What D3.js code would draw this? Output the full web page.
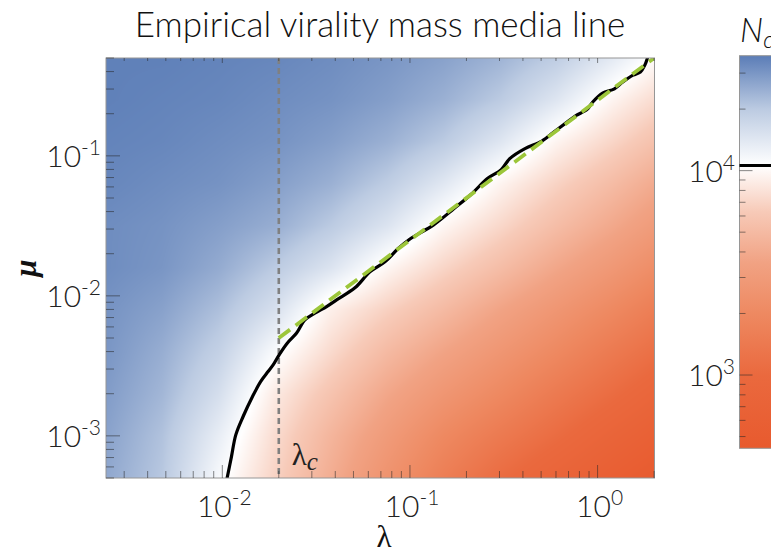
<!DOCTYPE html>
<html>
<head>
<meta charset="utf-8">
<script src="https://cdn.jsdelivr.net/npm/d3@7"></script>
<style>
  html, body { margin: 0; padding: 0; background: #ffffff; }
  svg { display: block; }
</style>
</head>
<body>
<svg id="chart" width="771" height="557"></svg>
<script>
// ---- axis ranges ----
const lambdaDomain = [0.0024, 2.01];
const muDomain = [0.0005, 0.5];
const ncDomain = [438, 36500];
const ncThreshold = 10580;

// ---- tick labels (powers of ten) ----
const lambdaMajor = [0.01, 0.1, 1];
const lambdaMajorExp = ["-2", "-1", "0"];
const muMajor = [0.001, 0.01, 0.1];
const muMajorExp = ["-3", "-2", "-1"];
const ncMajor = [1000, 10000];
const ncMajorExp = ["3", "4"];

// ---- N_c field sampled on a grid (log10 lambda columns, log10 mu rows, log10 N_c values) ----
const gridLogLambda = [-2.62, -2.32, -2.02, -1.72, -1.42, -1.12, -0.82, -0.52, -0.22, 0.08, 0.38];
const gridLogMu = [-0.3, -0.6, -0.9, -1.2, -1.5, -1.8, -2.1, -2.4, -2.7, -3.0, -3.3];
const gridLogNc = [
  [4.55, 4.55, 4.54, 4.53, 4.51, 4.48, 4.44, 4.38, 4.29, 4.14, 3.97],
  [4.55, 4.54, 4.53, 4.51, 4.49, 4.45, 4.39, 4.30, 4.16, 3.98, 3.84],
  [4.54, 4.53, 4.51, 4.49, 4.45, 4.39, 4.30, 4.16, 3.98, 3.85, 3.71],
  [4.53, 4.51, 4.49, 4.45, 4.39, 4.29, 4.15, 3.98, 3.84, 3.71, 3.57],
  [4.51, 4.49, 4.45, 4.40, 4.30, 4.17, 3.99, 3.86, 3.72, 3.59, 3.45],
  [4.51, 4.48, 4.41, 4.30, 4.17, 3.99, 3.85, 3.72, 3.58, 3.45, 3.31],
  [4.49, 4.44, 4.34, 4.19, 3.96, 3.83, 3.70, 3.56, 3.43, 3.30, 3.16],
  [4.48, 4.40, 4.27, 4.05, 3.87, 3.70, 3.56, 3.43, 3.30, 3.16, 3.03],
  [4.46, 4.37, 4.20, 3.94, 3.76, 3.58, 3.43, 3.30, 3.16, 3.03, 2.89],
  [4.44, 4.33, 4.12, 3.88, 3.67, 3.48, 3.30, 3.16, 3.03, 2.89, 2.76],
  [4.42, 4.31, 4.06, 3.84, 3.62, 3.40, 3.20, 3.03, 2.89, 2.76, 2.64]
];

// ---- colour map (log10 N_c -> colour) ----
const colorStopLog = [2.641, 3.0, 3.3, 3.55, 3.8, 4.025, 4.3, 4.563];
const colorStopHex = ["#e85a2e", "#ea693e", "#ee8961", "#f1a283", "#f7cab8", "#ffffff", "#bccbe2", "#5b7db7"];

// ---- empirical threshold line N_c = threshold ----
const thresholdLambda = [0.0106, 0.01119, 0.0118, 0.01291, 0.01449, 0.016, 0.01754, 0.01866, 0.02009, 0.02218,
  0.02489, 0.02754, 0.03112, 0.03597, 0.04065, 0.05093, 0.0612, 0.07356, 0.0863, 0.1,
  0.1337, 0.1718, 0.2114, 0.2596, 0.3064, 0.3402, 0.4101, 0.5044, 0.5945, 0.7017,
  0.7631, 0.8827, 0.9394, 1.063, 1.229, 1.362, 1.544, 1.691, 1.785, 1.849];
const thresholdMu = [0.000497, 0.000711, 0.001017, 0.001375, 0.00191, 0.00244, 0.00288, 0.00321, 0.00379, 0.00459,
  0.00542, 0.00674, 0.00752, 0.00839, 0.00936, 0.01141, 0.01483, 0.0175, 0.02168, 0.02548,
  0.03215, 0.04207, 0.05297, 0.06918, 0.07964, 0.0955, 0.1127, 0.1274, 0.1507, 0.1778,
  0.1933, 0.2158, 0.2415, 0.2806, 0.3013, 0.3365, 0.3768, 0.3972, 0.4446, 0.5059];

// ---- critical lambda and linear fit mu = lambda / 4 ----
const lambdaC = 0.02;
const fitLambda = [0.02, 2.0];
const fitMu = [0.005, 0.5];

// ================= drawing =================
const svg = d3.select("#chart");
const plot = { left: 106, top: 58, right: 654.5, bottom: 478 };
const bar = { left: 739.5, width: 40, top: 55.7, bottom: 448.3 };

const x = d3.scaleLog().domain(lambdaDomain).range([plot.left, plot.right]);
const y = d3.scaleLog().domain(muDomain).range([plot.bottom, plot.top]);
const cy = d3.scaleLog().domain(ncDomain).range([bar.bottom, bar.top]);
const color = d3.scaleLinear().domain(colorStopLog).range(colorStopHex)
  .interpolate(d3.interpolateRgb).clamp(true);

const sansFont = "'Lato Light', Lato, 'Open Sans', sans-serif";
const serifFont = "'Liberation Serif', 'DejaVu Serif', serif";

// --- heat map rendered to an image ---
const W = Math.round(plot.right - plot.left), H = Math.round(plot.bottom - plot.top);
const canvas = document.createElement("canvas");
canvas.width = W; canvas.height = H;
const ctx = canvas.getContext("2d");
const img = ctx.createImageData(W, H);
const colIdx = d3.scaleLinear().domain(gridLogLambda).range(d3.range(gridLogLambda.length)).clamp(true);
const rowIdx = d3.scaleLinear().domain(gridLogMu).range(d3.range(gridLogMu.length)).clamp(true);
const nC = gridLogLambda.length, nR = gridLogMu.length;
const colCache = new Map();
for (let j = 0; j < H; j++) {
  const lm = Math.log10(y.invert(plot.top + (j + 0.5) * (plot.bottom - plot.top) / H));
  const r = rowIdx(lm);
  const r0 = Math.min(Math.floor(r), nR - 2), fr = r - r0;
  for (let i = 0; i < W; i++) {
    const ll = Math.log10(x.invert(plot.left + (i + 0.5) * (plot.right - plot.left) / W));
    const c = colIdx(ll);
    const c0 = Math.min(Math.floor(c), nC - 2), fc = c - c0;
    const v = (1 - fr) * ((1 - fc) * gridLogNc[r0][c0] + fc * gridLogNc[r0][c0 + 1]) +
              fr * ((1 - fc) * gridLogNc[r0 + 1][c0] + fc * gridLogNc[r0 + 1][c0 + 1]);
    const key = Math.round(v * 2000);
    let rgb = colCache.get(key);
    if (!rgb) { rgb = d3.rgb(color(key / 2000)); colCache.set(key, rgb); }
    const k = (j * W + i) * 4;
    img.data[k] = rgb.r; img.data[k + 1] = rgb.g; img.data[k + 2] = rgb.b; img.data[k + 3] = 255;
  }
}
ctx.putImageData(img, 0, 0);

svg.append("defs").append("clipPath").attr("id", "plotClip")
  .append("rect").attr("x", plot.left).attr("y", plot.top)
  .attr("width", plot.right - plot.left).attr("height", plot.bottom - plot.top);

svg.append("image")
  .attr("x", plot.left).attr("y", plot.top)
  .attr("width", plot.right - plot.left).attr("height", plot.bottom - plot.top)
  .attr("preserveAspectRatio", "none")
  .attr("href", canvas.toDataURL());

const layer = svg.append("g").attr("clip-path", "url(#plotClip)");

// critical lambda (vertical dashed)
layer.append("line")
  .attr("x1", x(lambdaC)).attr("x2", x(lambdaC))
  .attr("y1", plot.top).attr("y2", plot.bottom)
  .attr("stroke", "#808080").attr("stroke-width", 2.6).attr("stroke-dasharray", "6,4");

// empirical threshold line
const thresholdPts = thresholdLambda.map((l, i) => [l, thresholdMu[i]]);
layer.append("path")
  .datum(thresholdPts)
  .attr("d", d3.line().x(d => x(d[0])).y(d => y(d[1])).curve(d3.curveCatmullRom.alpha(0.5)))
  .attr("fill", "none").attr("stroke", "#000").attr("stroke-width", 3.2)
  .attr("stroke-linejoin", "round");

// linear fit (green dashed)
const fitPts = fitLambda.map((l, i) => [l, fitMu[i]]);
layer.append("path")
  .datum(fitPts)
  .attr("d", d3.line().x(d => x(d[0])).y(d => y(d[1])))
  .attr("fill", "none").attr("stroke", "#9cc63a").attr("stroke-width", 3.8)
  .attr("stroke-dasharray", "14,7");

// frame
svg.append("rect")
  .attr("x", plot.left).attr("y", plot.top)
  .attr("width", plot.right - plot.left).attr("height", plot.bottom - plot.top)
  .attr("fill", "none").attr("stroke", "#969696").attr("stroke-width", 1);

// ticks
const tickColor = "rgba(40,40,40,0.55)";
const isMajor = v => Math.abs(Math.log10(v) - Math.round(Math.log10(v))) < 1e-9;
const ticksG = svg.append("g").attr("stroke", tickColor).attr("stroke-width", 1);
x.ticks().forEach(v => {
  const px = x(v), major = isMajor(v);
  ticksG.append("line").attr("x1", px).attr("x2", px)
    .attr("y1", plot.bottom).attr("y2", plot.bottom - (major ? 13 : 7));
  ticksG.append("line").attr("x1", px).attr("x2", px)
    .attr("y1", plot.top).attr("y2", plot.top + (major ? 5 : 3));
});
y.ticks().forEach(v => {
  const py = y(v), major = isMajor(v);
  ticksG.append("line").attr("x1", plot.left).attr("x2", plot.left + (major ? 14 : 8))
    .attr("y1", py).attr("y2", py);
});

// tick labels
const tickFs = 30, supFs = 21;
function powerLabel(sel, exp) {
  sel.append("tspan").text("10");
  sel.append("tspan").text(exp).attr("font-size", supFs).attr("dy", -12);
}
lambdaMajor.forEach((v, i) => {
  svg.append("text").attr("x", x(v) + 2).attr("y", 517)
    .attr("text-anchor", "middle").attr("font-family", sansFont).attr("font-weight", 300)
    .attr("font-size", tickFs).attr("fill", "#222")
    .call(powerLabel, lambdaMajorExp[i]);
});
muMajor.forEach((v, i) => {
  svg.append("text").attr("x", 101).attr("y", y(v) + 11)
    .attr("text-anchor", "end").attr("font-family", sansFont).attr("font-weight", 300)
    .attr("font-size", tickFs).attr("fill", "#222")
    .call(powerLabel, muMajorExp[i]);
});

// axis labels
svg.append("text").attr("x", 384).attr("y", 547).attr("text-anchor", "middle")
  .attr("font-family", serifFont).attr("font-size", 31).attr("fill", "#111").text("λ");
svg.append("text").attr("transform", "translate(36,268) rotate(-90)").attr("text-anchor", "middle")
  .attr("font-family", serifFont).attr("font-style", "italic").attr("font-weight", "bold")
  .attr("font-size", 31).attr("fill", "#111").text("μ");

// lambda_c annotation
const lc = svg.append("text").attr("x", x(lambdaC) + 13).attr("y", 465)
  .attr("font-family", serifFont).attr("font-size", 31).attr("fill", "#222");
lc.append("tspan").text("λ");
lc.append("tspan").text("c").attr("font-style", "italic").attr("font-size", 25).attr("dy", 5);

// title
svg.append("text").attr("x", 380).attr("y", 37).attr("text-anchor", "middle")
  .attr("font-family", sansFont).attr("font-weight", 300).attr("font-size", 35)
  .attr("fill", "#111").text("Empirical virality mass media line");

// ---- colour bar ----
const grad = svg.select("defs").append("linearGradient").attr("id", "ncGrad")
  .attr("gradientUnits", "userSpaceOnUse")
  .attr("x1", 0).attr("x2", 0).attr("y1", bar.bottom).attr("y2", bar.top);
const lo = Math.log10(ncDomain[0]), hi = Math.log10(ncDomain[1]);
colorStopLog.forEach((s, i) => {
  grad.append("stop").attr("offset", Math.max(0, Math.min(1, (s - lo) / (hi - lo))))
    .attr("stop-color", colorStopHex[i]);
});
svg.append("rect").attr("x", bar.left).attr("y", bar.top)
  .attr("width", bar.width).attr("height", bar.bottom - bar.top)
  .attr("fill", "url(#ncGrad)").attr("stroke", "#969696").attr("stroke-width", 1);

const barTicks = svg.append("g").attr("stroke", tickColor).attr("stroke-width", 1);
cy.ticks().forEach(v => {
  const py = cy(v), major = isMajor(v);
  barTicks.append("line").attr("x1", bar.left).attr("x2", bar.left + (major ? 13 : 6))
    .attr("y1", py).attr("y2", py);
});
svg.append("line").attr("x1", bar.left).attr("x2", bar.left + bar.width)
  .attr("y1", cy(ncThreshold)).attr("y2", cy(ncThreshold))
  .attr("stroke", "#000").attr("stroke-width", 3);

ncMajor.forEach((v, i) => {
  svg.append("text").attr("x", 735).attr("y", cy(v) + 11)
    .attr("text-anchor", "end").attr("font-family", sansFont).attr("font-weight", 300)
    .attr("font-size", tickFs).attr("fill", "#222")
    .call(powerLabel, ncMajorExp[i]);
});

const nTitle = svg.append("text").attr("x", 740).attr("y", 42)
  .attr("font-family", sansFont).attr("font-weight", 300).attr("font-style", "italic")
  .attr("font-size", 33).attr("fill", "#111");
nTitle.append("tspan").text("N");
nTitle.append("tspan").text("c").attr("font-size", 23).attr("dy", 6);
</script>
</body>
</html>
